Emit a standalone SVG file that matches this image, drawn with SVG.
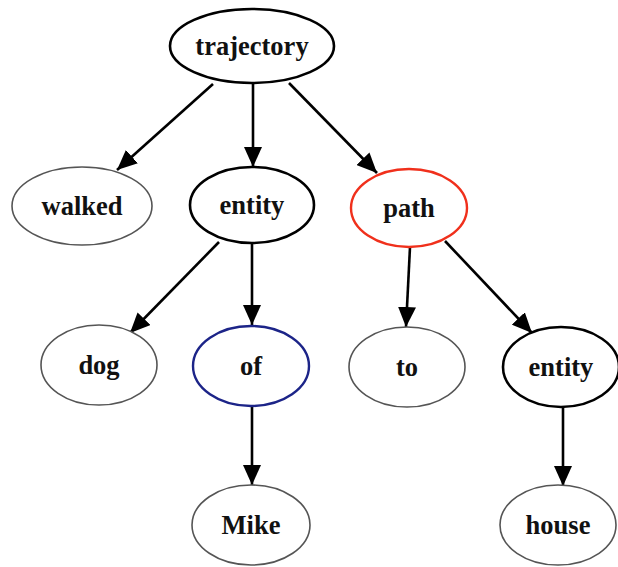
<svg xmlns="http://www.w3.org/2000/svg" width="618" height="567" viewBox="0 0 618 567">
<style>
  .n ellipse { fill: #fff; }
  .bold ellipse { stroke: #000; stroke-width: 2.6; }
  .thin ellipse { stroke: #555; stroke-width: 1.6; }
  .red ellipse { stroke: #f0301c; stroke-width: 2.4; }
  .blue ellipse { stroke: #1c2488; stroke-width: 2.4; }
  text { font-family: "Liberation Serif", "Times New Roman", serif; font-weight: bold; font-size: 26.5px; fill: #111; text-anchor: middle; }
  .e line { stroke: #000; stroke-width: 2.6; marker-end: url(#arr); }
</style>
<defs>
  <marker id="arr" markerUnits="userSpaceOnUse" markerWidth="22" markerHeight="18" refX="20" refY="9" orient="auto">
    <path d="M0,0 L20,9 L0,18 Z" fill="#000"/>
  </marker>
</defs>
<rect width="618" height="567" fill="#fff"/>
<g id="connectors" class="e">
  <line x1="213" y1="84" x2="117" y2="170"/>
  <line x1="253" y1="84" x2="253" y2="167"/>
  <line x1="289" y1="83" x2="377" y2="173"/>
  <line x1="219" y1="242" x2="130" y2="333"/>
  <line x1="252" y1="243" x2="252" y2="325"/>
  <line x1="410" y1="247" x2="406" y2="327"/>
  <line x1="445" y1="241" x2="532" y2="333"/>
  <line x1="252" y1="407" x2="252" y2="485"/>
  <line x1="563" y1="407" x2="563" y2="486"/>
</g>
<g id="trajectory" class="n bold"><ellipse cx="252" cy="46" rx="82" ry="37"/><text x="252" y="55">trajectory</text></g>
<g id="walked" class="n thin"><ellipse cx="82" cy="206" rx="70" ry="39"/><text x="82" y="215">walked</text></g>
<g id="entity1" class="n bold"><ellipse cx="252" cy="205" rx="62" ry="38"/><text x="252" y="214">entity</text></g>
<g id="path" class="n red"><ellipse cx="409" cy="208" rx="58" ry="39"/><text x="409" y="217">path</text></g>
<g id="dog" class="n thin"><ellipse cx="99" cy="365" rx="58" ry="40"/><text x="99" y="374">dog</text></g>
<g id="of" class="n blue"><ellipse cx="251" cy="366" rx="58" ry="40"/><text x="251" y="375">of</text></g>
<g id="to" class="n thin"><ellipse cx="407" cy="367" rx="58" ry="40"/><text x="407" y="376">to</text></g>
<g id="entity2" class="n bold"><ellipse cx="561" cy="367" rx="58" ry="40"/><text x="561" y="376">entity</text></g>
<g id="Mike" class="n thin"><ellipse cx="251" cy="525" rx="59" ry="40"/><text x="251" y="534">Mike</text></g>
<g id="house" class="n thin"><ellipse cx="558" cy="525" rx="58" ry="40"/><text x="558" y="534">house</text></g>
</svg>
